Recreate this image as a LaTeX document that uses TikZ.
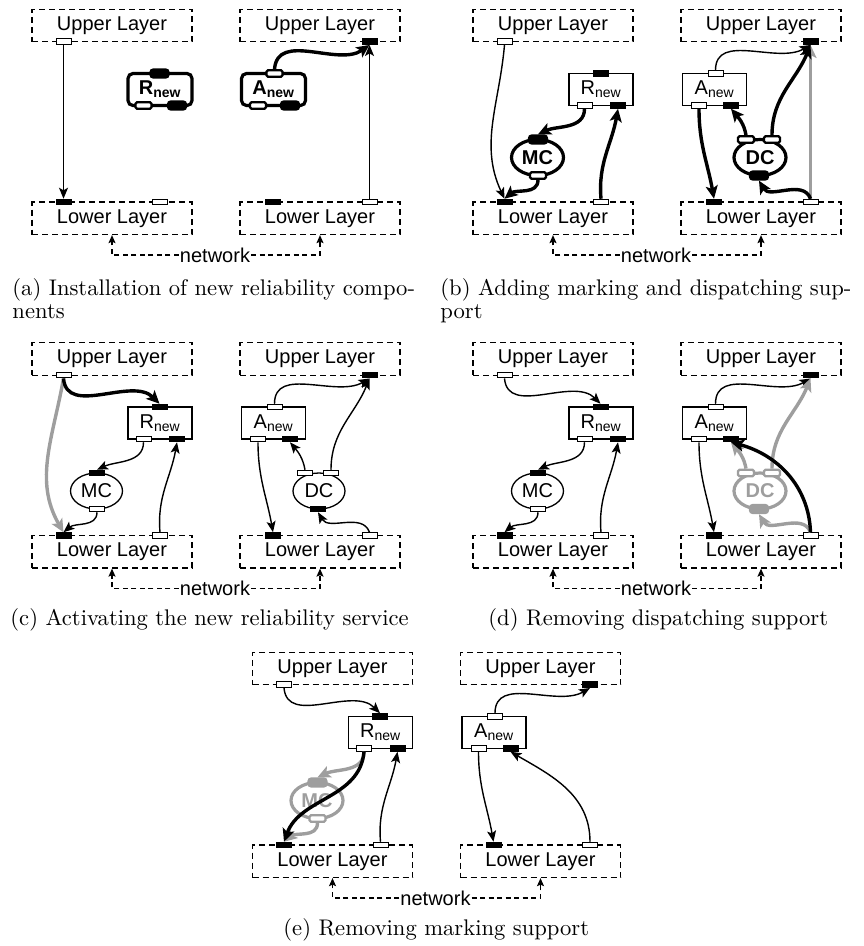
\documentclass[tikz,border=0pt]{standalone}
\usepackage{fontspec}
\newfontfamily\diagfont{Liberation Sans}
\usetikzlibrary{arrows.meta,shapes.geometric}
\definecolor{fade}{gray}{0.62}
\newcommand\dsize{\diagfont\fontsize{20}{23}\selectfont}

\tikzset{
  x=1pt, y=-1pt,
  layer/.style={draw, dash pattern=on 6pt off 4pt, line width=1.2pt,
    minimum width=160pt, minimum height=32.5pt, inner sep=0pt, font=\dsize},
  net/.style={fill=white, inner sep=1pt, font=\dsize},
  netline/.style={line width=1.1pt, dash pattern=on 5pt off 3.5pt,
    -{Stealth[length=8pt,width=7pt,inset=1.5pt]}},
  comp/.style={draw, line width=1.3pt, minimum width=64pt, minimum height=32pt,
    inner sep=0pt, font=\dsize},
  compT/.style={comp, line width=3.2pt, rounded corners=5pt, font=\dsize\bfseries},
  ell/.style={draw, ellipse, line width=1.3pt, minimum width=52pt,
    minimum height=36pt, inner sep=0pt, font=\dsize},
  ellT/.style={ell, line width=3.2pt, font=\dsize\bfseries},
  ellG/.style={ellT, draw=fade, text=fade},
  pw/.style={draw, fill=white, line width=1pt, minimum width=15pt,
    minimum height=5.5pt, inner sep=0pt},
  pb/.style={pw, fill=black},
  pwT/.style={pw, line width=2.4pt, minimum width=16pt, minimum height=6.5pt,
    rounded corners=1.5pt},
  pbT/.style={pwT, fill=black, minimum width=18pt, minimum height=8pt,
    rounded corners=3pt},
  pwG/.style={pwT, draw=fade},
  pbG/.style={pbT, draw=fade, fill=fade},
  flow/.style={line width=1.4pt, -{Stealth[length=11pt,width=9pt,inset=2.5pt]}},
  flowT/.style={line width=3.4pt, -{Stealth[length=13pt,width=12pt,inset=3pt]}},
  flowG/.style={flowT, draw=fade},
  capt/.style={anchor=base west, inner sep=0pt,
    font=\fontsize{10}{12}\selectfont, scale=2.26, transform shape},
}

% layers, their fixed ports and the network link
\newcommand\stackframe{%
  \node[layer] (ul1) at (112,25.5) {Upper Layer};
  \node[layer] (ul2) at (320,25.5) {Upper Layer};
  \node[layer] (ll1) at (112,218.3) {Lower Layer};
  \node[layer] (ll2) at (320,218.3) {Lower Layer};
  \node[pw] (ulw) at (63.5,41.7) {};
  \node[pb] (ulb) at (369.5,41.7) {};
  \node[pb] (llb) at (63.5,202) {};
  \node[pw] (llw) at (160,202) {};
  \node[pb] (llb2) at (273,202) {};
  \node[pw] (llw2) at (369.5,202) {};
  \node[net] (net) at (215,255) {network};
  \draw[netline] (net.west) -| (ll1.south);
  \draw[netline] (net.east) -| (ll2.south);
}
% components: #1 body style, #2 white port style, #3 black port style
\newcommand\putR[3]{%
  \node[#1] (R) at (160,89.5) {R\textsubscript{new}};
  \node[#3] (Rt) at (159.5,73.5) {};
  \node[#2] (Rw) at (143.5,105.5) {};
  \node[#3] (Rb) at (177,105.5) {};
}
\newcommand\putA[3]{%
  \node[#1] (A) at (273.5,89.5) {A\textsubscript{new}};
  \node[#2] (At) at (274.5,73.5) {};
  \node[#2] (Aw) at (258,105.5) {};
  \node[#3] (Ab) at (290,105.5) {};
}
\newcommand\putMC[3]{%
  \node[#1] (MC) at (96.5,157.5) {MC};
  \node[#3] (MCt) at (97,139.5) {};
  \node[#2] (MCb) at (97,175.5) {};
}
\newcommand\putDC[3]{%
  \node[#1] (DC) at (319,157.5) {DC};
  \node[#2] (DCl) at (305,139.5) {};
  \node[#2] (DCr) at (331,139.5) {};
  \node[#3] (DCb) at (318,175.5) {};
}

\begin{document}
\begin{tikzpicture}
\useasboundingbox (0,0) rectangle (863,946);

% (a) installation
\begin{scope}[name prefix=a-]
  \stackframe
  \putR{compT}{pwT}{pbT}
  \putA{compT}{pwT}{pbT}
  \draw[flow] (ulw.south) -- (llb.north);
  \draw[flow] (llw2.north) -- (ulb.south);
  \draw[flowT] (At.north) to[out=85,in=-145] (ulb.south);
\end{scope}

% (b) marking and dispatching
\begin{scope}[shift={(441,0)}, name prefix=b-]
  \stackframe
  \putR{comp}{pw}{pb}
  \putA{comp}{pw}{pb}
  \putMC{ellT}{pwT}{pbT}
  \putDC{ellT}{pwT}{pbT}
  \draw[flowG] (llw2.north) -- (ulb.south);
  \draw[flow] (ulw.south) to[out=-95,in=115] (llb.north);
  \draw[flowT] (Rw.south) to[out=-90,in=25] (MCt.north);
  \draw[flowT] (MCb.south) to[out=-90,in=40] (llb.north);
  \draw[flowT] (llw.north) to[out=95,in=-100] (Rb.south);
  \draw[flow] (At.north) to[out=90,in=-150] (ulb.south);
  \draw[flowT] (DCr.north) to[out=90,in=-112] (ulb.south);
  \draw[flowT] (DCl.north) to[out=100,in=-50] (Ab.south);
  \draw[flowT] (Aw.south) to[out=-90,in=100] (llb2.north);
  \draw[flowT] (llw2.north) to[out=110,in=-60] (DCb.south);
\end{scope}

% (c) activation
\begin{scope}[shift={(0,333.5)}, name prefix=c-]
  \stackframe
  \putR{comp}{pw}{pb}
  \putA{comp}{pw}{pb}
  \putMC{ell}{pw}{pb}
  \putDC{ell}{pw}{pb}
  \draw[flowG] (ulw.south) to[out=-100,in=120] (llb.north);
  \draw[flowT] (ulw.south) to[out=-85,in=135] (Rt.north);
  \draw[flow] (Rw.south) to[out=-90,in=25] (MCt.north);
  \draw[flow] (MCb.south) to[out=-90,in=40] (llb.north);
  \draw[flow] (llw.north) to[out=95,in=-100] (Rb.south);
  \draw[flow] (At.north) to[out=90,in=-150] (ulb.south);
  \draw[flow] (DCr.north) to[out=90,in=-112] (ulb.south);
  \draw[flow] (DCl.north) to[out=100,in=-50] (Ab.south);
  \draw[flow] (Aw.south) to[out=-90,in=100] (llb2.north);
  \draw[flow] (llw2.north) to[out=110,in=-60] (DCb.south);
\end{scope}

% (d) dispatching removed
\begin{scope}[shift={(441,333.5)}, name prefix=d-]
  \stackframe
  \putR{comp}{pw}{pb}
  \putA{comp}{pw}{pb}
  \putMC{ell}{pw}{pb}
  \putDC{ellG}{pwG}{pbG}
  \draw[flow] (ulw.south) to[out=-85,in=135] (Rt.north);
  \draw[flow] (Rw.south) to[out=-90,in=25] (MCt.north);
  \draw[flow] (MCb.south) to[out=-90,in=40] (llb.north);
  \draw[flow] (llw.north) to[out=95,in=-100] (Rb.south);
  \draw[flow] (At.north) to[out=90,in=-150] (ulb.south);
  \draw[flowG] (DCr.north) to[out=90,in=-112] (ulb.south);
  \draw[flowG] (DCl.north) to[out=100,in=-50] (Ab.south);
  \draw[flowG] (llw2.north) to[out=110,in=-60] (DCb.south);
  \draw[flow] (Aw.south) to[out=-90,in=100] (llb2.north);
  \draw[flowT] (llw2.north) to[out=92,in=-15] (Ab.south);
\end{scope}

% (e) marking removed
\begin{scope}[shift={(220.5,643)}, name prefix=e-]
  \stackframe
  \putR{comp}{pw}{pb}
  \putA{comp}{pw}{pb}
  \putMC{ellG}{pwG}{pbG}
  \draw[flowG] (Rw.south) to[out=-90,in=25] (MCt.north);
  \draw[flowG] (MCb.south) to[out=-90,in=40] (llb.north);
  \draw[flow] (ulw.south) to[out=-85,in=135] (Rt.north);
  \draw[flowT] (Rw.south) to[out=-95,in=70] (llb.north);
  \draw[flow] (llw.north) to[out=95,in=-100] (Rb.south);
  \draw[flow] (At.north) to[out=90,in=-150] (ulb.south);
  \draw[flow] (Aw.south) to[out=-90,in=100] (llb2.north);
  \draw[flow] (llw2.north) to[out=90,in=-30] (Ab.south);
\end{scope}

% sub-captions
\node[capt] (capa1) at (12,295) {(a) Installation of new reliability compo-};
\node[capt] (capa2) at (12,318) {nents};
\node[capt] (capb1) at (440,295) {(b) Adding marking and dispatching sup-};
\node[capt] (capb2) at (440,318) {port};
\node[capt] (capc) at (10,625) {(c) Activating the new reliability service};
\node[capt] (capd) at (488,625) {(d) Removing dispatching support};
\node[capt] (cape) at (283,935) {(e) Removing marking support};
\end{tikzpicture}
\end{document}
